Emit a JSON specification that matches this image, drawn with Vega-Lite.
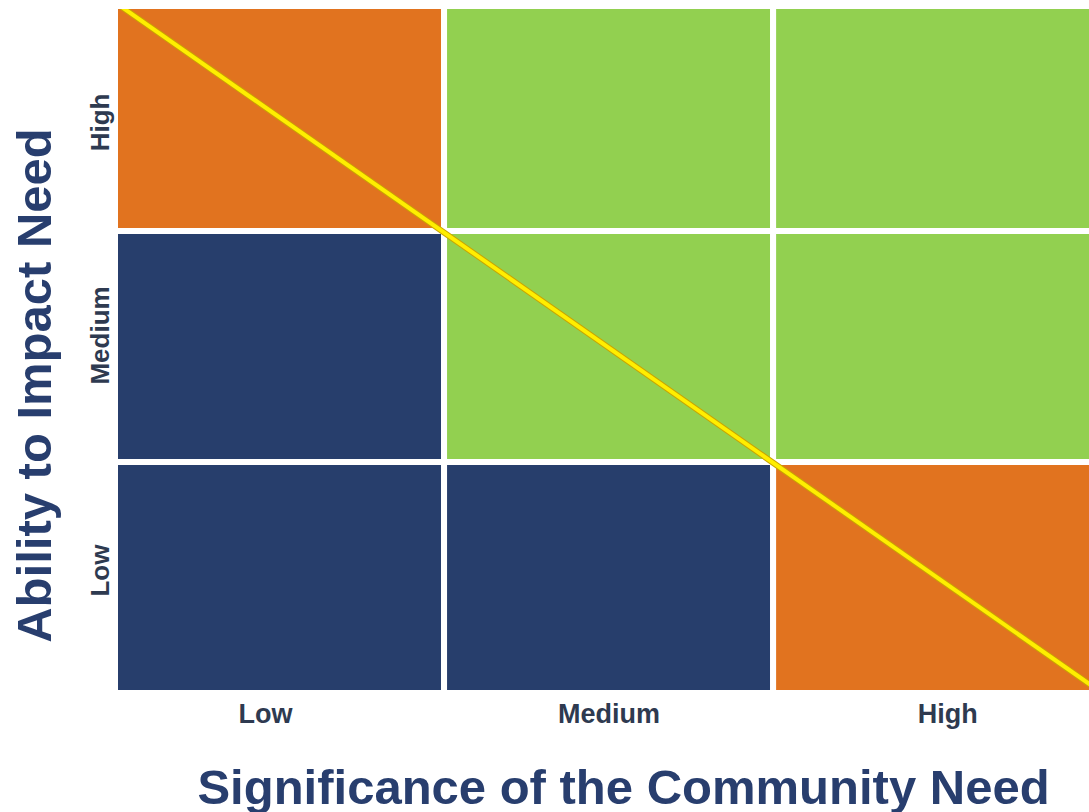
{
  "$schema": "https://vega.github.io/schema/vega-lite/v6.json",
  "width": 974,
  "height": 684,
  "autosize": {"type": "none"},
  "padding": {"left": 115, "top": 9, "right": 0, "bottom": 119},
  "background": "white",
  "config": {"view": {"stroke": null}, "font": "Liberation Sans"},
  "layer": [
    {
      "data": {
        "values": [
          {"sig": 0, "sig2": 1, "abil": 2, "abil2": 3, "zone": "Mixed"},
          {"sig": 1, "sig2": 2, "abil": 2, "abil2": 3, "zone": "Priority"},
          {"sig": 2, "sig2": 3, "abil": 2, "abil2": 3, "zone": "Priority"},
          {"sig": 0, "sig2": 1, "abil": 1, "abil2": 2, "zone": "Low"},
          {"sig": 1, "sig2": 2, "abil": 1, "abil2": 2, "zone": "Priority"},
          {"sig": 2, "sig2": 3, "abil": 1, "abil2": 2, "zone": "Priority"},
          {"sig": 0, "sig2": 1, "abil": 0, "abil2": 1, "zone": "Low"},
          {"sig": 1, "sig2": 2, "abil": 0, "abil2": 1, "zone": "Low"},
          {"sig": 2, "sig2": 3, "abil": 0, "abil2": 1, "zone": "Mixed"}
        ]
      },
      "mark": {"type": "rect", "stroke": "white", "strokeWidth": 6, "clip": true},
      "encoding": {
        "x": {
          "field": "sig",
          "type": "quantitative",
          "scale": {"domain": [0, 2.96], "nice": false, "zero": false},
          "axis": {
            "values": [0.456, 1.5, 2.529],
            "labelExpr": "datum.value < 1 ? 'Low' : datum.value < 2 ? 'Medium' : 'High'",
            "ticks": false,
            "domain": false,
            "grid": false,
            "labelFont": "Liberation Sans",
            "labelFontSize": 27,
            "labelFontWeight": "bold",
            "labelColor": "#2E3A50",
            "labelPadding": 8,
            "labelBaseline": "top",
            "labelAlign": "center",
            "labelFlush": false,
            "labelOverlap": false,
            "title": "Significance of the Community Need",
            "titleFont": "Liberation Sans",
            "titleFontSize": 49,
            "titleFontWeight": "bold",
            "titleColor": "#283E6E",
            "titleX": 508,
            "titleY": 110,
            "titleAlign": "center",
            "titleBaseline": "alphabetic"
          }
        },
        "x2": {"field": "sig2"},
        "y": {
          "field": "abil",
          "type": "quantitative",
          "scale": {"domain": [0, 2.961], "nice": false, "zero": false},
          "axis": {
            "values": [0.532, 1.55, 2.472],
            "labelExpr": "datum.value < 1 ? 'Low' : datum.value < 2 ? 'Medium' : 'High'",
            "ticks": false,
            "domain": false,
            "grid": false,
            "labelFont": "Liberation Sans",
            "labelFontSize": 26,
            "labelFontWeight": "bold",
            "labelColor": "#2E3A50",
            "labelAngle": -90,
            "labelAlign": "center",
            "labelBaseline": "alphabetic",
            "labelPadding": 7,
            "labelFlush": false,
            "labelOverlap": false,
            "title": "Ability to Impact Need",
            "titleFont": "Liberation Sans",
            "titleFontSize": 49,
            "titleFontWeight": "bold",
            "titleColor": "#283E6E",
            "titleAngle": -90,
            "titleX": -65,
            "titleY": 376,
            "titleAlign": "center",
            "titleBaseline": "alphabetic"
          }
        },
        "y2": {"field": "abil2"},
        "color": {
          "field": "zone",
          "type": "nominal",
          "scale": {"domain": ["Mixed", "Priority", "Low"], "range": ["#E1731F", "#92D050", "#273E6C"]},
          "legend": null
        }
      }
    },
    {
      "data": {"values": [{"sig": 0, "abil": 2.99}, {"sig": 3, "abil": 0}]},
      "mark": {"type": "line", "color": "#C9A400", "strokeWidth": 6, "clip": true},
      "encoding": {
        "x": {"field": "sig", "type": "quantitative"},
        "y": {"field": "abil", "type": "quantitative"}
      }
    },
    {
      "data": {"values": [{"sig": 0, "abil": 2.99}, {"sig": 3, "abil": 0}]},
      "mark": {"type": "line", "color": "#FFEE00", "strokeWidth": 4, "clip": true},
      "encoding": {
        "x": {"field": "sig", "type": "quantitative"},
        "y": {"field": "abil", "type": "quantitative"}
      }
    }
  ]
}
